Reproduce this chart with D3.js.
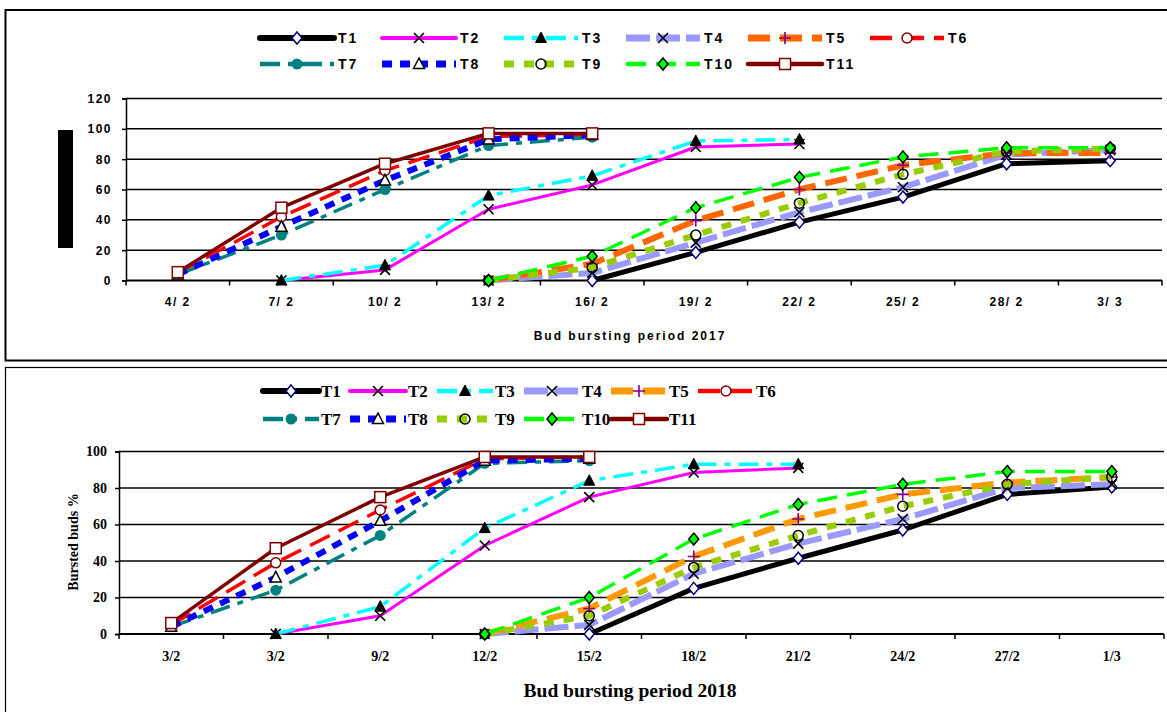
<!DOCTYPE html>
<html>
<head>
<meta charset="utf-8">
<script src="https://cdnjs.cloudflare.com/ajax/libs/d3/7.8.5/d3.min.js"></script>
<style>
  body { margin: 0; background: #fff; }
  svg { display: block; }
</style>
</head>
<body>
<svg id="chart" width="1167" height="712"></svg>
<script>
// ---- data ----
var seriesNames = ['T1','T2','T3','T4','T5','T6','T7','T8','T9','T10','T11'];

var dates2017 = ['4/ 2','7/ 2','10/ 2','13/ 2','16/ 2','19/ 2','22/ 2','25/ 2','28/ 2','3/ 3'];
var dates2018 = ['3/2','3/2','9/2','12/2','15/2','18/2','21/2','24/2','27/2','1/3'];

var yTicks2017 = [0, 20, 40, 60, 80, 100, 120];
var yTicks2018 = [0, 20, 40, 60, 80, 100];

var _ = null;
var values2017 = [
  [_, _, _, _, 0, 18.5, 38.5, 55, 77, 79],      // T1
  [_, 0, 7, 47, 63, 88, 90, _, _, _],           // T2
  [_, 0, 10, 56, 69, 92, 93, _, _, _],          // T3
  [_, _, _, 0, 5, 25, 45, 61.5, 83, 86],        // T4
  [_, _, _, 0, 11, 39.5, 60, 76, 84, 84],       // T5
  [5, 42, 72.5, 95, 96, _, _, _, _, _],         // T6
  [4, 30, 60, 89, 94.5, _, _, _, _, _],         // T7
  [4, 35.5, 66, 93, 96, _, _, _, _, _],         // T8
  [_, _, _, 0, 8.5, 30, 51, 70, 85, 87],        // T9
  [_, _, _, 0, 16, 48, 68, 81.5, 87.5, 87.5],   // T10
  [5.5, 48, 77, 97, 97, _, _, _, _, _]          // T11
];

var values2018 = [
  [_, _, _, _, 0, 25, 41.5, 57, 76.5, 80.5],    // T1
  [_, 0, 10, 48.5, 75, 88.5, 91, _, _, _],      // T2
  [_, 0, 15, 58, 84, 93, 93, _, _, _],          // T3
  [_, _, _, 0, 5, 33, 49.5, 63, 80, 82],        // T4
  [_, _, _, 0, 14, 42.5, 63, 76.5, 83, 86],     // T5
  [5, 39, 68, 96, 97, _, _, _, _, _],           // T6
  [4, 24, 54, 93.5, 95, _, _, _, _, _],         // T7
  [4, 31, 62, 95, 96, _, _, _, _, _],           // T8
  [_, _, _, 0, 10, 36.5, 54, 70, 82, 86],       // T9
  [_, _, _, 0, 20, 52, 71, 82, 89, 89],         // T10
  [6, 47, 75, 97, 97, _, _, _, _, _]            // T11
];

// ---- styles ----
var styles = [
  {color: '#000000', width: 5,   dash: null,        cap: 'round', marker: 'diamond'},
  {color: '#ff00ff', width: 3,   dash: null,        cap: 'round', marker: 'x'},
  {color: '#00ffff', width: 3.5, dash: '20,8,6,8',  cap: 'butt',  marker: 'triangle'},
  {color: '#9999ff', width: 6,   dash: '24,6',      cap: 'butt',  marker: 'x'},
  {color: '#ff6600', width: 6,   dash: '22,10',     cap: 'butt',  marker: 'plus'},
  {color: '#ff0000', width: 3.5, dash: '22,10',     cap: 'butt',  marker: 'circle'},
  {color: '#008080', width: 3.5, dash: '20,8,6,8',  cap: 'butt',  marker: 'dot'},
  {color: '#0000ff', width: 6,   dash: '10,8',      cap: 'butt',  marker: 'triangleOpen'},
  {color: '#99cc00', width: 6,   dash: '10,10',     cap: 'butt',  marker: 'circleBlack'},
  {color: '#00ff00', width: 3.5, dash: '20,10',     cap: 'butt',  marker: 'diamondGreen'},
  {color: '#800000', width: 3.5, dash: null,        cap: 'round', marker: 'square'}
];

var svg = d3.select('#chart');

function drawMarker(g, type, x, y) {
  var m = g.append('g').attr('transform', 'translate(' + x + ',' + y + ')');
  if (type === 'diamond' || type === 'diamondGreen') {
    m.append('path').attr('d', 'M0,-6L5,0L0,6L-5,0Z')
      .attr('fill', type === 'diamond' ? '#fff' : '#00ff00')
      .attr('stroke', type === 'diamond' ? '#000080' : '#000')
      .attr('stroke-width', 1.5);
  } else if (type === 'x') {
    m.append('path').attr('d', 'M-5,-5L5,5M-5,5L5,-5')
      .attr('stroke', '#000').attr('stroke-width', 1.6).attr('fill', 'none');
  } else if (type === 'plus') {
    m.append('path').attr('d', 'M-6,0L6,0M0,-6L0,6')
      .attr('stroke', '#800080').attr('stroke-width', 1.6).attr('fill', 'none');
  } else if (type === 'triangle' || type === 'triangleOpen') {
    m.append('path').attr('d', 'M0,-6L5.5,4.5L-5.5,4.5Z')
      .attr('fill', type === 'triangle' ? '#000' : '#fff')
      .attr('stroke', '#000').attr('stroke-width', type === 'triangle' ? 1 : 1.5);
  } else if (type === 'circle') {
    m.append('circle').attr('r', 5).attr('fill', '#fff')
      .attr('stroke', '#800000').attr('stroke-width', 1.5);
  } else if (type === 'circleBlack') {
    m.append('circle').attr('r', 5).attr('fill', 'none')
      .attr('stroke', '#000').attr('stroke-width', 1.5);
  } else if (type === 'dot') {
    m.append('circle').attr('r', 5.5).attr('fill', '#008080');
  } else if (type === 'square') {
    m.append('rect').attr('x', -5.5).attr('y', -5.5).attr('width', 11).attr('height', 11)
      .attr('fill', '#fff').attr('stroke', '#800000').attr('stroke-width', 1.5);
  }
}

function drawPanel(cfg) {
  var g = svg.append('g');
  var colorOf = s => (cfg.colors && cfg.colors[s]) || styles[s].color;

  // panel frame
  g.append('rect')
    .attr('x', cfg.frame[0]).attr('y', cfg.frame[1])
    .attr('width', cfg.frame[2]).attr('height', cfg.frame[3])
    .attr('fill', 'none').attr('stroke', '#000').attr('stroke-width', cfg.frameWidth);

  var x = d3.scaleBand()
    .domain(d3.range(cfg.dates.length))
    .range([cfg.left, cfg.right]);

  var y = d3.scaleLinear()
    .domain([0, cfg.yMax])
    .range([cfg.bottom, cfg.top]);

  // gridlines
  g.append('g').selectAll('line')
    .data(cfg.yTicks.filter(d => d > 0))
    .enter().append('line')
    .attr('x1', cfg.left).attr('x2', cfg.right)
    .attr('y1', d => y(d)).attr('y2', d => y(d))
    .attr('stroke', '#000').attr('stroke-width', 1.5);

  // y axis
  var yAxis = g.append('g')
    .attr('transform', 'translate(' + cfg.left + ',0)')
    .call(d3.axisLeft(y).tickValues(cfg.yTicks).tickSize(4).tickPadding(cfg.yPad));
  yAxis.select('.domain').attr('stroke-width', 1.5);
  yAxis.selectAll('line').attr('stroke-width', 1.5);
  yAxis.selectAll('text')
    .attr('font-family', cfg.font).attr('font-weight', 'bold')
    .attr('font-size', cfg.tickSize).attr('letter-spacing', cfg.spacing).attr('fill', '#000');

  // x axis: ticks between categories
  var xg = g.append('g').attr('transform', 'translate(0,' + cfg.bottom + ')');
  xg.append('line').attr('x1', cfg.left).attr('x2', cfg.right)
    .attr('stroke', '#000').attr('stroke-width', 2);
  xg.selectAll('.tk')
    .data(d3.range(cfg.dates.length + 1))
    .enter().append('line')
    .attr('x1', i => i < cfg.dates.length ? x(i) : cfg.right)
    .attr('x2', i => i < cfg.dates.length ? x(i) : cfg.right)
    .attr('y1', 0).attr('y2', 5)
    .attr('stroke', '#000').attr('stroke-width', 1.5);
  xg.selectAll('.lab')
    .data(cfg.dates)
    .enter().append('text')
    .attr('x', (d, i) => x(i) + x.bandwidth() / 2)
    .attr('y', cfg.xLabelY - cfg.bottom)
    .attr('text-anchor', 'middle')
    .attr('font-family', cfg.font).attr('font-weight', 'bold')
    .attr('font-size', cfg.tickSize).attr('letter-spacing', cfg.spacing)
    .text(d => d);

  // series
  var line = d3.line()
    .defined(d => d.v != null)
    .x(d => x(d.i) + x.bandwidth() / 2)
    .y(d => y(d.v));

  cfg.values.forEach(function (vals, s) {
    var st = styles[s];
    var pts = vals.map((v, i) => ({i: i, v: v}));
    g.append('path')
      .datum(pts)
      .attr('d', line)
      .attr('fill', 'none')
      .attr('stroke', colorOf(s))
      .attr('stroke-width', st.width)
      .attr('stroke-dasharray', st.dash)
      .attr('stroke-linecap', st.cap)
      .attr('stroke-linejoin', 'round');
    var mg = g.append('g');
    pts.filter(d => d.v != null).forEach(function (d) {
      drawMarker(mg, st.marker, x(d.i) + x.bandwidth() / 2, y(d.v));
    });
  });

  // legend
  var lg = g.append('g');
  seriesNames.forEach(function (name, s) {
    var col = s < 6 ? s : s - 6;
    var row = s < 6 ? 0 : 1;
    var lx = cfg.legX + col * cfg.legPitch;
    var ly = cfg.legY + row * cfg.legRow;
    var st = styles[s];
    lg.append('line')
      .attr('x1', lx).attr('x2', lx + cfg.legSym)
      .attr('y1', ly).attr('y2', ly)
      .attr('stroke', colorOf(s)).attr('stroke-width', st.width + 1)
      .attr('stroke-dasharray', st.dash).attr('stroke-linecap', st.cap);
    drawMarker(lg, st.marker, lx + cfg.legSym / 2, ly);
    lg.append('text')
      .attr('x', lx + cfg.legText).attr('y', ly + cfg.legFont * 0.36)
      .attr('font-family', cfg.font).attr('font-weight', 'bold')
      .attr('font-size', cfg.legFont).attr('letter-spacing', cfg.legSpacing)
      .text(name);
  });

  // x title
  g.append('text')
    .attr('x', 630).attr('y', cfg.titleY)
    .attr('text-anchor', 'middle')
    .attr('font-family', cfg.font).attr('font-weight', 'bold')
    .attr('font-size', cfg.titleSize).attr('letter-spacing', cfg.titleSpacing)
    .text(cfg.title);

  return g;
}

var top2017 = drawPanel({
  frame: [5.5, 10, 1170, 350.5], frameWidth: 2,
  dates: dates2017, values: values2017, yTicks: yTicks2017, yMax: 120,
  left: 126, right: 1162, top: 98.5, bottom: 280.5,
  font: '"Liberation Sans", Arial, sans-serif', tickSize: 12, spacing: 1.5, yPad: 10,
  xLabelY: 306,
  legX: 260, legPitch: 122, legSym: 74, legText: 78, legY: 38, legRow: 26,
  legFont: 14, legSpacing: 2,
  title: 'Bud bursting period 2017', titleY: 340, titleSize: 12, titleSpacing: 2
});

// redacted y-axis title block
top2017.append('rect')
  .attr('x', 58).attr('y', 130).attr('width', 15).attr('height', 118)
  .attr('fill', '#000');

var bottom2018 = drawPanel({
  frame: [5.5, 367.5, 1170, 350], frameWidth: 1.2,
  dates: dates2018, values: values2018, yTicks: yTicks2018, yMax: 100,
  colors: {4: '#ff9900'},
  left: 119, right: 1164, top: 451.5, bottom: 634,
  font: '"Liberation Serif", "Times New Roman", serif', tickSize: 14, spacing: 0, yPad: 8,
  xLabelY: 661,
  legX: 263, legPitch: 87, legSym: 56, legText: 58, legY: 391, legRow: 28,
  legFont: 17, legSpacing: 0,
  title: 'Bud bursting period 2018', titleY: 697, titleSize: 19.5, titleSpacing: 0
});

bottom2018.append('text')
  .attr('transform', 'translate(78,542) rotate(-90)')
  .attr('text-anchor', 'middle')
  .attr('font-family', '"Liberation Serif", "Times New Roman", serif')
  .attr('font-weight', 'bold').attr('font-size', 14)
  .text('Bursted buds %');
</script>
</body>
</html>
